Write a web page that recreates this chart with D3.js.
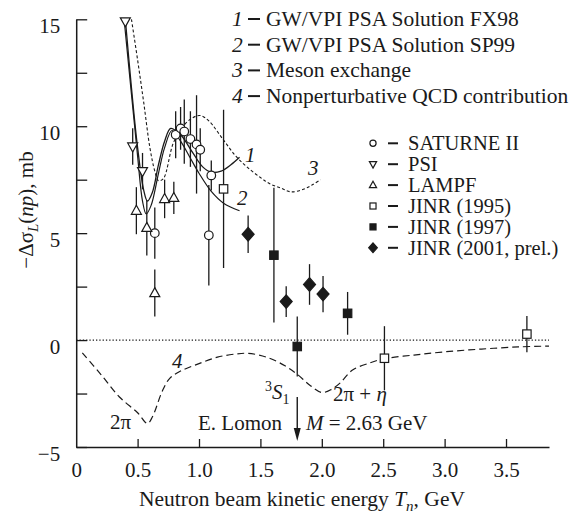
<!DOCTYPE html>
<html><head><meta charset="utf-8">
<script src="https://cdn.jsdelivr.net/npm/d3@7"></script>
<style>
html,body{margin:0;padding:0;background:#fff;}
svg text{font-family:"Liberation Serif","Times New Roman",serif;fill:#1a1a1a;}
</style></head>
<body><svg id="c" width="570" height="519" font-family="Liberation Serif"></svg>
<script>
// ---------- data ----------
const xTicks = [0, 0.5, 1.0, 1.5, 2.0, 2.5, 3.0, 3.5];
const yTicks = [-5, -2.5, 0, 2.5, 5, 7.5, 10, 12.5, 15];

const saturneX   = [0.64, 0.81, 0.85, 0.88, 0.93, 0.98, 1.01, 1.08, 1.10];
const saturneY   = [5.0, 9.6, 9.9, 9.75, 9.4, 9.15, 8.9, 4.9, 7.7];
const saturneErr = [1.2, 1.1, 1.0, 1.5, 1.3, 2.3, 1.0, 2.35, 0.7];

const psiX   = [0.40, 0.46, 0.54];
const psiY   = [14.9, 9.05, 7.9];
const psiErr = [0, 0.85, 0.85];

const lampfX   = [0.49, 0.575, 0.64, 0.72, 0.795];
const lampfY   = [6.05, 5.25, 2.2, 6.6, 6.65];
const lampfErr = [1.1, 1.3, 1.1, 0.9, 0.75];

const jinr95X   = [1.20, 2.51, 3.67];
const jinr95Y   = [7.07, -0.85, 0.28];
const jinr95Err = [3.7, 1.5, 0.85];

const jinr97X   = [1.61, 1.80, 2.21];
const jinr97Y   = [3.97, -0.3, 1.25];
const jinr97Err = [3.15, 1.4, 1.0];

const jinr01X   = [1.40, 1.71, 1.90, 2.01];
const jinr01Y   = [4.95, 1.8, 2.6, 2.15];
const jinr01Err = [0.88, 0.72, 0.95, 0.85];

// curves
const fx98 = [[0.40,15.0],[0.45,11.8],[0.50,9.0],[0.55,7.0],[0.58,6.5],[0.62,6.9],[0.67,8.2],[0.72,9.3],[0.77,9.9],[0.85,9.6],[0.95,8.75],[1.03,8.1],[1.10,7.85],[1.18,7.9],[1.26,8.2],[1.33,8.55]];
const sp99 = [[0.39,15.0],[0.45,11.5],[0.50,8.6],[0.54,6.5],[0.57,5.9],[0.61,6.3],[0.67,7.8],[0.72,9.0],[0.78,9.8],[0.85,9.3],[0.93,8.5],[1.00,7.8],[1.10,6.95],[1.20,6.4],[1.33,6.05]];
const meson = [[0.45,15.0],[0.50,13.1],[0.55,11.1],[0.60,9.0],[0.64,7.9],[0.67,7.45],[0.71,7.55],[0.79,9.2],[0.87,10.0],[0.95,10.4],[1.01,10.5],[1.08,10.25],[1.20,9.35],[1.30,8.6],[1.39,8.1],[1.50,7.6],[1.58,7.3],[1.67,7.1],[1.75,6.93],[1.85,7.05],[1.92,7.25],[1.99,7.5]];
const qcd = [[0.05,-0.6],[0.2,-1.6],[0.35,-2.65],[0.5,-3.4],[0.58,-3.9],[0.62,-3.6],[0.7,-2.4],[0.76,-1.8],[0.85,-1.45],[1.0,-1.1],[1.15,-0.8],[1.3,-0.65],[1.4,-0.62],[1.55,-0.8],[1.7,-1.2],[1.8,-1.6],[1.9,-2.1],[2.0,-2.45],[2.08,-2.3],[2.15,-2.0],[2.25,-1.4],[2.4,-1.05],[2.5,-0.88],[2.75,-0.7],[3.0,-0.55],[3.3,-0.42],[3.6,-0.32],[3.85,-0.28]];

const curveLabels = ["GW/VPI PSA Solution FX98","GW/VPI PSA Solution SP99","Meson exchange","Nonperturbative QCD contribution"];
const dataLabels = ["SATURNE II","PSI","LAMPF","JINR (1995)","JINR (1997)","JINR (2001, prel.)"];

// ---------- chart ----------
const FONT = "Liberation Serif";
const svg = d3.select("#c");
const ink = "#1a1a1a";
const x = d3.scaleLinear().domain([0, 3.85]).range([76.2, 549]);
const y = d3.scaleLinear().domain([-5, 15]).range([447, 19.3]);

svg.append("defs").append("clipPath").attr("id","clip")
  .append("rect").attr("x",76).attr("y",19).attr("width",474).attr("height",428);

// axes
const yAxis = d3.axisLeft(y).tickValues(yTicks).tickSizeInner(-11).tickSizeOuter(0).tickPadding(16)
  .tickFormat(d => d % 5 === 0 ? (d < 0 ? "\u2212" + Math.abs(d) : String(d)) : "");
const gy = svg.append("g").attr("transform","translate(76.2,0)").call(yAxis);
gy.selectAll("text").attr("dy", 13.5).style("font-size","21px");

const xAxis = d3.axisBottom(x).tickValues(xTicks).tickSizeInner(-8).tickSizeOuter(0)
  .tickFormat(d => d === 0 ? "0" : d.toFixed(1));
const gx = svg.append("g").attr("transform","translate(0,447)").call(xAxis);
gx.selectAll("text").attr("y", 0).attr("dy", 29.5).style("font-size","21px");
[gx, gy].forEach(g => {
  g.attr("font-family", FONT);
  g.selectAll("path.domain").attr("stroke", ink).attr("stroke-width", 1.5);
  g.selectAll("line").attr("stroke", ink).attr("stroke-width", 1.3);
});
gx.selectAll(".tick").filter(d => d === 0).select("line").remove();

// zero dotted line
const plot = svg.append("g").attr("clip-path","url(#clip)");
plot.append("line").attr("x1", x(0)).attr("x2", x(3.85)).attr("y1", y(0)).attr("y2", y(0))
  .attr("stroke", ink).attr("stroke-width", 1.1).attr("stroke-dasharray","1.3,2");

// curves
const line = d3.line().x(d => x(d[0])).y(d => y(d[1])).curve(d3.curveCatmullRom.alpha(0.5));
const curveStyles = [
  {data: fx98, dash: null, w: 1.3},
  {data: sp99, dash: null, w: 1.2},
  {data: meson, dash: "3,2.2", w: 1.1},
  {data: qcd, dash: "7,4", w: 1.2}
];
curveStyles.forEach(c => {
  plot.append("path").attr("d", line(c.data)).attr("fill","none").attr("stroke", ink)
    .attr("stroke-width", c.w).attr("stroke-dasharray", c.dash);
});

// markers
function marker(g, type, cx, cy, s) {
  const fill = (type === "sqf" || type === "dia") ? ink : "#fff";
  let el;
  if (type === "circ") {
    el = g.append("circle").attr("cx", cx).attr("cy", cy).attr("r", 4.3 * s);
  } else if (type === "tdown" || type === "tup") {
    const h = 9 * s, w = 5 * s;
    const sgn = type === "tup" ? 1 : -1;
    el = g.append("path").attr("d",
      `M${cx},${cy - sgn * h * 0.6}L${cx + w},${cy + sgn * h * 0.4}L${cx - w},${cy + sgn * h * 0.4}Z`);
  } else if (type === "sq" || type === "sqf") {
    const a = 4.2 * s;
    el = g.append("rect").attr("x", cx - a).attr("y", cy - a).attr("width", 2 * a).attr("height", 2 * a);
  } else if (type === "dia") {
    const a = 6 * s, b = 6.8 * s;
    el = g.append("path").attr("d", `M${cx},${cy - b}L${cx + a},${cy}L${cx},${cy + b}L${cx - a},${cy}Z`);
  }
  el.attr("fill", fill).attr("stroke", ink).attr("stroke-width", 1.2);
}

const sets = [
  {t:"circ", X:saturneX, Y:saturneY, E:saturneErr},
  {t:"tdown", X:psiX, Y:psiY, E:psiErr},
  {t:"tup", X:lampfX, Y:lampfY, E:lampfErr},
  {t:"sq", X:jinr95X, Y:jinr95Y, E:jinr95Err},
  {t:"sqf", X:jinr97X, Y:jinr97Y, E:jinr97Err},
  {t:"dia", X:jinr01X, Y:jinr01Y, E:jinr01Err}
];
const eg = svg.append("g");
sets.forEach(s => s.X.forEach((xv, i) => {
  if (s.E[i] > 0) eg.append("line").attr("x1", x(xv)).attr("x2", x(xv))
    .attr("y1", y(s.Y[i] - s.E[i])).attr("y2", y(s.Y[i] + s.E[i]))
    .attr("stroke", ink).attr("stroke-width", 1.3);
}));
const mg = svg.append("g");
sets.forEach(s => s.X.forEach((xv, i) => marker(mg, s.t, x(xv), y(s.Y[i]), 1)));

// top legend
const lg1 = svg.append("g").attr("font-family", FONT);
curveLabels.forEach((t, i) => {
  const by = 26 + i * 25.7;
  lg1.append("text").attr("x", 232).attr("y", by).style("font-size","21.5px").style("font-style","italic").text(i + 1);
  lg1.append("line").attr("x1", 248).attr("x2", 260).attr("y1", by - 7).attr("y2", by - 7).attr("stroke", ink).attr("stroke-width", 2);
  lg1.append("text").attr("x", 266).attr("y", by).style("font-size","21.5px").text(t);
});

// data legend
const lg2 = svg.append("g").attr("font-family", FONT);
const ltypes = ["circ","tdown","tup","sq","sqf","dia"];
dataLabels.forEach((t, i) => {
  const cy = 143.3 + i * 20.9;
  marker(lg2, ltypes[i], 373, cy, 0.72);
  lg2.append("line").attr("x1", 388).attr("x2", 398).attr("y1", cy).attr("y2", cy).attr("stroke", ink).attr("stroke-width", 2);
  lg2.append("text").attr("x", 408).attr("y", cy + 7).style("font-size","20.5px").text(t);
});

// curve labels
const ann = svg.append("g").attr("font-family", FONT).style("font-size","21px");
[[245,162,"1"],[237,205,"2"],[308,175,"3"],[172,368,"4"]].forEach(a =>
  ann.append("text").attr("x", a[0]).attr("y", a[1]).style("font-style","italic").text(a[2]));

ann.append("text").attr("x", 110).attr("y", 429).text("2\u03c0");
const s1 = ann.append("text").attr("x", 265).attr("y", 399);
s1.append("tspan").style("font-size","14px").attr("dy", -8).text("3");
s1.append("tspan").style("font-style","italic").attr("dy", 8).text("S");
s1.append("tspan").style("font-size","14px").attr("dy", 5).text("1");
const et = ann.append("text").attr("x", 333).attr("y", 401);
et.append("tspan").text("2\u03c0 + ");
et.append("tspan").style("font-style","italic").text("\u03b7");
ann.append("text").attr("x", 198).attr("y", 430).text("E. Lomon");
const mt = ann.append("text").attr("x", 306).attr("y", 430);
mt.append("tspan").style("font-style","italic").text("M");
mt.append("tspan").text(" = 2.63 GeV");

// arrow
const ax = x(1.8);
svg.append("line").attr("x1", ax).attr("x2", ax).attr("y1", 397).attr("y2", 430).attr("stroke", ink).attr("stroke-width", 1.4);
svg.append("path").attr("d", `M${ax},${441}L${ax - 3.5},${428}L${ax + 3.5},${428}Z`).attr("fill", ink);

// axis titles
const xt = svg.append("text").attr("font-family", FONT).attr("x", 302).attr("y", 506).attr("text-anchor","middle").style("font-size","21.5px");
xt.append("tspan").text("Neutron beam kinetic energy ");
xt.append("tspan").style("font-style","italic").text("T");
xt.append("tspan").style("font-style","italic").style("font-size","15px").attr("dy", 5).text("n");
xt.append("tspan").attr("dy", -5).text(", GeV");

const yt = svg.append("text").attr("font-family", FONT).attr("transform","translate(33,210) rotate(-90)").attr("text-anchor","middle").style("font-size","21px");
yt.append("tspan").text("\u2212\u0394\u03c3");
yt.append("tspan").style("font-style","italic").style("font-size","15px").attr("dy", 5).text("L");
yt.append("tspan").attr("dy", -5).text("(");
yt.append("tspan").style("font-style","italic").text("np");
yt.append("tspan").text("), mb");
</script></body></html>
